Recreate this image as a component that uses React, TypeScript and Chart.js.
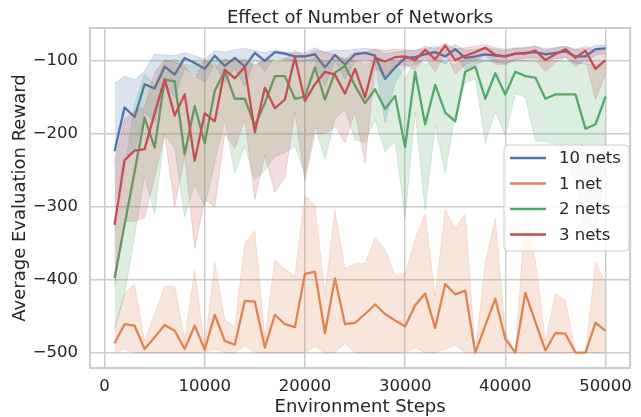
import React, { useEffect, useRef } from 'react';
import { Chart, registerables } from 'chart.js';

Chart.register(...registerables);

const FONT = "'DejaVu Sans', 'Liberation Sans', sans-serif";
const TEXT = '#262626';

const steps = [
  1000, 2000, 3000, 4000, 5000, 6000, 7000, 8000, 9000, 10000,
  11000, 12000, 13000, 14000, 15000, 16000, 17000, 18000, 19000, 20000,
  21000, 22000, 23000, 24000, 25000, 26000, 27000, 28000, 29000, 30000,
  31000, 32000, 33000, 34000, 35000, 36000, 37000, 38000, 39000, 40000,
  41000, 42000, 43000, 44000, 45000, 46000, 47000, 48000, 49000, 50000,
];

const seriesNames = ['10 nets', '1 net', '2 nets', '3 nets'];
const seriesColors = ['#4C72B0', '#DD8452', '#55A868', '#C44E52'];
const bandColors = [
  'rgba(76,114,176,0.2)',
  'rgba(221,132,82,0.2)',
  'rgba(85,168,104,0.2)',
  'rgba(196,78,82,0.2)',
];

// 10 nets
const nets10Mean = [-224, -164, -177, -132, -138, -108, -119, -96, -103, -111, -93, -107, -96, -108, -89, -100, -88, -90, -94, -94, -91, -109, -92, -105, -91, -89, -93, -125, -109, -96, -95, -91, -88, -94, -84, -96, -94, -91, -93, -94, -90, -89, -88, -91, -89, -87, -94, -94, -84, -83];
const nets10Hi = [-131, -121, -126, -114, -91, -92, -93, -89, -93, -98, -86, -88, -85, -83, -86, -89, -85, -88, -89, -89, -82, -88, -85, -86, -84, -83, -84, -90, -88, -86, -86, -83, -80, -84, -78, -85, -84, -82, -84, -86, -83, -82, -80, -83, -82, -80, -85, -84, -79, -78];
const nets10Lo = [-300, -230, -225, -170, -185, -135, -150, -110, -120, -130, -105, -130, -110, -135, -98, -115, -95, -98, -100, -100, -100, -135, -100, -125, -100, -98, -102, -185, -130, -108, -105, -100, -98, -105, -92, -112, -105, -100, -102, -104, -98, -96, -96, -100, -97, -95, -104, -104, -92, -90];

// 1 net
const net1Mean = [-487, -461, -463, -495, -479, -462, -470, -495, -463, -496, -448, -484, -489, -429, -430, -493, -448, -461, -465, -392, -389, -473, -398, -461, -459, -447, -434, -447, -456, -464, -435, -419, -466, -406, -420, -415, -500, -463, -426, -481, -500, -418, -458, -497, -473, -474, -500, -500, -459, -470];
const net1Hi = [-465, -419, -406, -484, -447, -409, -409, -481, -387, -493, -376, -455, -465, -350, -333, -480, -373, -385, -395, -285, -298, -419, -305, -385, -378, -378, -342, -359, -394, -392, -344, -310, -422, -304, -330, -310, -500, -376, -316, -472, -500, -307, -373, -484, -419, -428, -500, -500, -376, -403];
const net1Lo = [-500, -495, -500, -500, -500, -500, -500, -500, -500, -500, -495, -500, -500, -491, -500, -500, -500, -500, -500, -500, -492, -500, -500, -487, -500, -500, -500, -500, -500, -500, -493, -500, -500, -495, -490, -500, -500, -500, -500, -500, -500, -500, -500, -500, -500, -500, -500, -500, -500, -500];

// 2 nets
const nets2Mean = [-398, -325, -252, -178, -219, -126, -128, -228, -162, -213, -141, -114, -152, -152, -189, -158, -121, -121, -152, -149, -109, -153, -116, -107, -134, -158, -139, -166, -148, -218, -115, -187, -133, -171, -183, -115, -108, -152, -117, -146, -115, -121, -123, -152, -146, -146, -146, -193, -187, -149];
const nets2Hi = [-330, -250, -160, -118, -132, -100, -98, -105, -106, -100, -100, -98, -102, -98, -105, -100, -98, -96, -100, -100, -96, -100, -98, -96, -100, -105, -100, -105, -100, -125, -98, -105, -98, -102, -105, -96, -96, -100, -98, -102, -98, -100, -100, -102, -100, -100, -100, -105, -105, -100];
const nets2Lo = [-470, -420, -340, -258, -310, -200, -220, -314, -270, -300, -240, -180, -254, -217, -263, -250, -231, -226, -217, -254, -189, -235, -180, -166, -208, -212, -180, -225, -211, -315, -170, -305, -189, -254, -175, -130, -125, -212, -170, -202, -145, -150, -210, -210, -215, -240, -264, -330, -350, -240];

// 3 nets
const nets3Mean = [-325, -236, -223, -221, -172, -125, -175, -146, -237, -172, -183, -112, -124, -108, -198, -137, -165, -153, -95, -155, -132, -115, -119, -145, -111, -150, -96, -101, -95, -94, -99, -85, -98, -79, -99, -93, -88, -82, -92, -94, -90, -90, -86, -99, -91, -84, -96, -86, -111, -99];
const nets3Hi = [-240, -180, -169, -164, -116, -98, -102, -107, -125, -98, -109, -98, -100, -98, -107, -98, -103, -98, -86, -93, -86, -88, -91, -98, -88, -88, -84, -86, -84, -85, -86, -80, -84, -76, -84, -82, -80, -78, -82, -84, -82, -82, -80, -86, -82, -80, -84, -80, -86, -84];
const nets3Lo = [-410, -320, -320, -315, -260, -200, -300, -230, -357, -290, -300, -200, -220, -180, -290, -230, -280, -260, -170, -265, -200, -200, -190, -212, -170, -240, -110, -120, -108, -105, -112, -95, -115, -90, -118, -105, -100, -92, -105, -105, -100, -100, -98, -115, -102, -95, -108, -98, -153, -118];

const xTicks = [0, 10000, 20000, 30000, 40000, 50000];
const yTicks = [-500, -400, -300, -200, -100];

const titleText = 'Effect of Number of Networks';
const xLabel = 'Environment Steps';
const yLabel = 'Average Evaluation Reward';

const means = [nets10Mean, net1Mean, nets2Mean, nets3Mean];
const his = [nets10Hi, net1Hi, nets2Hi, nets3Hi];
const los = [nets10Lo, net1Lo, nets2Lo, nets3Lo];

const pts = (arr: number[]) => steps.map((x, i) => ({ x, y: arr[i] }));

function buildDatasets() {
  const ds: any[] = [];
  for (let k = 0; k < 4; k++) {
    const base = (3 - k) * 3;
    ds.push({
      label: seriesNames[k] + ' hi',
      data: pts(his[k]),
      borderColor: bandColors[k],
      borderWidth: 1,
      backgroundColor: bandColors[k],
      fill: '+1',
      pointRadius: 0,
      order: base + 1,
    });
    ds.push({
      label: seriesNames[k] + ' lo',
      data: pts(los[k]),
      borderColor: bandColors[k],
      borderWidth: 1,
      backgroundColor: bandColors[k],
      fill: false,
      pointRadius: 0,
      order: base + 2,
    });
    ds.push({
      label: seriesNames[k],
      data: pts(means[k]),
      borderColor: seriesColors[k],
      borderWidth: 2.3,
      borderJoinStyle: 'round',
      backgroundColor: seriesColors[k],
      fill: false,
      pointRadius: 0,
      order: base,
    });
  }
  return ds;
}

const decor = {
  id: 'decor',
  afterDatasetsDraw(chart: any) {
    const { ctx, chartArea: a } = chart;
    ctx.save();
    ctx.strokeStyle = '#cccccc';
    ctx.lineWidth = 2;
    ctx.strokeRect(a.left, a.top, a.right - a.left, a.bottom - a.top);
    ctx.restore();
  },
  afterDraw(chart: any) {
    const { ctx, chartArea: a } = chart;
    const cx = (a.left + a.right) / 2;
    const cy = (a.top + a.bottom) / 2;
    ctx.save();
    ctx.fillStyle = TEXT;
    ctx.font = `18px ${FONT}`;
    ctx.textAlign = 'center';
    ctx.textBaseline = 'alphabetic';
    ctx.fillText(titleText, cx, 23);
    ctx.fillText(xLabel, cx, 412);
    ctx.save();
    ctx.translate(25, cy);
    ctx.rotate(-Math.PI / 2);
    ctx.fillText(yLabel, 0, 0);
    ctx.restore();

    // legend
    const lx = 504, ly = 145, lw = 125, lh = 106, r = 4;
    ctx.beginPath();
    ctx.moveTo(lx + r, ly);
    ctx.lineTo(lx + lw - r, ly);
    ctx.arcTo(lx + lw, ly, lx + lw, ly + r, r);
    ctx.lineTo(lx + lw, ly + lh - r);
    ctx.arcTo(lx + lw, ly + lh, lx + lw - r, ly + lh, r);
    ctx.lineTo(lx + r, ly + lh);
    ctx.arcTo(lx, ly + lh, lx, ly + lh - r, r);
    ctx.lineTo(lx, ly + r);
    ctx.arcTo(lx, ly, lx + r, ly, r);
    ctx.closePath();
    ctx.fillStyle = 'rgba(255,255,255,0.8)';
    ctx.fill();
    ctx.strokeStyle = '#cccccc';
    ctx.lineWidth = 1;
    ctx.stroke();

    const rows = [158, 183.5, 209, 234.5];
    ctx.font = `16.5px ${FONT}`;
    ctx.textAlign = 'left';
    ctx.textBaseline = 'middle';
    for (let k = 0; k < 4; k++) {
      ctx.strokeStyle = seriesColors[k];
      ctx.lineWidth = 2.3;
      ctx.beginPath();
      ctx.moveTo(510, rows[k]);
      ctx.lineTo(546, rows[k]);
      ctx.stroke();
      ctx.fillStyle = TEXT;
      ctx.fillText(seriesNames[k], 559, rows[k] + 1);
    }
    ctx.restore();
  },
};

export default function App() {
  const ref = useRef<HTMLCanvasElement>(null);
  useEffect(() => {
    if (!ref.current) return;
    const chart = new Chart(ref.current, {
      type: 'line',
      data: { datasets: buildDatasets() },
      options: {
        responsive: false,
        animation: false,
        devicePixelRatio: 1,
        layout: { padding: { top: 28, right: 5, left: 0, bottom: 0 } },
        plugins: {
          legend: { display: false },
          title: { display: false },
          tooltip: { enabled: false },
          filler: { propagate: false },
        },
        elements: { point: { radius: 0 }, line: { tension: 0 } },
        scales: {
          x: {
            type: 'linear',
            min: -1450,
            max: 52450,
            afterFit: (s: any) => { s.height = 49; },
            afterBuildTicks: (s: any) => { s.ticks = xTicks.map((v) => ({ value: v })); },
            border: { display: false },
            grid: { color: '#cccccc', lineWidth: 1.5, drawTicks: false },
            ticks: {
              padding: 9,
              color: TEXT,
              maxRotation: 0,
              autoSkip: false,
              font: { family: FONT, size: 16.5 },
              callback: (v: any) => String(v),
            },
          },
          y: {
            type: 'linear',
            min: -521,
            max: -55,
            afterFit: (s: any) => { s.width = 90; },
            afterBuildTicks: (s: any) => { s.ticks = yTicks.map((v) => ({ value: v })); },
            border: { display: false },
            grid: { color: '#cccccc', lineWidth: 1.5, drawTicks: false },
            ticks: {
              padding: 12,
              color: TEXT,
              autoSkip: false,
              font: { family: FONT, size: 16.5 },
              callback: (v: any) => (v < 0 ? '\u2212' + Math.abs(v) : String(v)),
            },
          },
        },
      } as any,
      plugins: [decor],
    });
    return () => chart.destroy();
  }, []);
  return (
    <div style={{ position: 'fixed', left: 0, top: 0, width: 641, height: 417, background: '#fff' }}>
      <canvas ref={ref} width={641} height={417} style={{ display: 'block' }} />
    </div>
  );
}
